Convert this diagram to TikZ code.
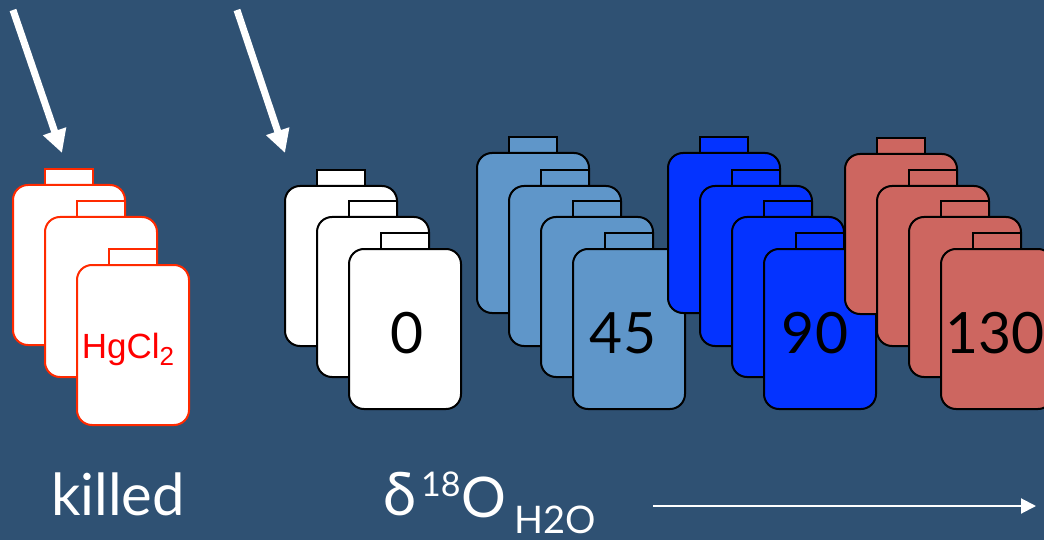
\documentclass[tikz,border=0pt]{standalone}
\usepackage{fontspec}
\setmainfont{Lato}
\newfontfamily\arialfont{Liberation Sans}
\usetikzlibrary{arrows.meta}

\definecolor{bg}{HTML}{2F5173}
\definecolor{paleblue}{HTML}{5F96C9}
\definecolor{vivid}{HTML}{0433FF}
\definecolor{brick}{HTML}{CD6660}
\definecolor{alarm}{HTML}{FF2A00}

\tikzset{
  capbox/.style={line width=2pt},
  bodybox/.style={line width=2pt, rounded corners=15pt},
  bigarrow/.style={white, line width=7pt, -{Triangle[length=23pt,width=23pt]}},
  axisarrow/.style={white, line width=2pt, -{Triangle[length=15pt,width=15pt]}},
  numlabel/.style={font=\fontsize{57}{60}\selectfont, text=black, inner sep=0pt},
  wordlabel/.style={text=white, inner sep=0pt, anchor=base west}
}

% one bottle: #1,#2 = top-left corner of the body, #3 = fill, #4 = outline
\newcommand{\drawbottle}[4]{%
  \draw[capbox, draw=#4, fill=#3] (#1+32,#2-16) rectangle (#1+80,#2);
  \draw[bodybox, draw=#4, fill=#3] (#1,#2) rectangle (#1+112,#2+160);
}

\begin{document}
\begin{tikzpicture}[x=1pt, y=-1pt]
  \useasboundingbox (0,0) rectangle (1044,540);
  \clip (0,0) rectangle (1044,540);
  \fill[bg] (0,0) rectangle (1044,540);

  % killed controls
  \drawbottle{13}{185}{white}{alarm}
  \drawbottle{45}{217}{white}{alarm}
  \drawbottle{77}{265}{white}{alarm}
  \node[text=red, inner sep=0pt, font=\arialfont\fontsize{35}{36}\selectfont]
    (hg) at (128,349) {HgCl\raisebox{-7pt}{\fontsize{26}{26}\selectfont 2}};

  % 0
  \drawbottle{285}{186}{white}{black}
  \drawbottle{317}{217}{white}{black}
  \drawbottle{349}{249}{white}{black}
  \node[numlabel] (n0) at (407,333) {0};

  % 45
  \drawbottle{477}{153}{paleblue}{black}
  \drawbottle{509}{186}{paleblue}{black}
  \drawbottle{541}{217}{paleblue}{black}
  \drawbottle{573}{249}{paleblue}{black}
  \node[numlabel] (n45) at (623,333) {45};

  % 90
  \drawbottle{668}{153}{vivid}{black}
  \drawbottle{700}{186}{vivid}{black}
  \drawbottle{732}{217}{vivid}{black}
  \drawbottle{764}{249}{vivid}{black}
  \node[numlabel] (n90) at (815,333) {90};

  % 130
  \drawbottle{845}{154}{brick}{black}
  \drawbottle{877}{186}{brick}{black}
  \drawbottle{909}{217}{brick}{black}
  \drawbottle{941}{249}{brick}{black}
  \node[numlabel] (n130) at (995,333) {130};

  % pointers
  \coordinate (p1a) at (13,10);
  \coordinate (p1b) at (62,153);
  \coordinate (p2a) at (237,10);
  \coordinate (p2b) at (285,153);
  \draw[bigarrow] (p1a) -- (p1b);
  \draw[bigarrow] (p2a) -- (p2b);

  % captions
  \node[wordlabel, font=\fontsize{58}{60}\selectfont] (killed) at (51,515) {killed};
  \node[wordlabel, font=\fontsize{60}{62}\selectfont] (delta) at (383,515) {δ};
  \node[wordlabel, font=\fontsize{34}{36}\selectfont] (iso) at (421,496) {18};
  \node[wordlabel, font=\fontsize{56}{58}\selectfont] (oxy) at (461,517) {O};
  \node[wordlabel, font=\fontsize{38}{40}\selectfont] (water) at (514,533) {H2O};

  \coordinate (axa) at (653,506);
  \coordinate (axb) at (1036,506);
  \draw[axisarrow] (axa) -- (axb);
\end{tikzpicture}
\end{document}
